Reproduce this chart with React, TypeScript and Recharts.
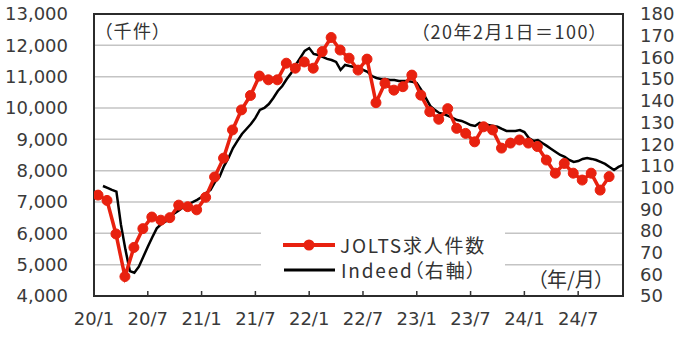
import React from "react";
import {
  LineChart,
  Line,
  XAxis,
  YAxis,
  CartesianGrid,
  ReferenceArea,
} from "recharts";

// JOLTS job openings (thousands), monthly from 2020/1
const joltsValues = [
  7220, 7050, 5980, 4620, 5550, 6150, 6520, 6420, 6500, 6900, 6850, 6750,
  7150, 7800, 8400, 9300, 9940, 10400, 11020, 10900, 10900, 11430, 11270, 11470,
  11270, 11800, 12250, 11850, 11590, 11210, 11560, 10170, 10790, 10570, 10680, 11050,
  10410, 9880, 9640, 9980, 9350, 9190, 8920, 9400, 9300, 8720, 8880, 8980,
  8880, 8770, 8340, 7920, 8230, 7920, 7700, 7920, 7380, 7810,
];

// Indeed job postings index (2020/2/1 = 100), half-monthly from 2020/2/1
const indeedValues = [
  100.7, 99.8, 98.9, 98.1, 83.0, 71.5, 61.5, 60.7, 63.5, 68.1,
  72.7, 77.1, 81.2, 83.2, 84.3, 86.6, 88.2, 89.6, 91.0, 92.4,
  93.3, 94.3, 95.6, 97.5, 98.9, 102.6, 104.9, 109.9, 113.6, 118.2,
  121.5, 124.7, 127.0, 129.3, 132.1, 135.8, 136.7, 138.5, 141.3, 144.5,
  146.8, 150.0, 152.8, 156.5, 159.7, 163.0, 164.3, 161.6, 161.1, 160.2,
  159.3, 158.8, 157.9, 154.2, 156.5, 156.0, 155.6, 155.1, 154.2, 153.3,
  151.4, 150.5, 150.0, 150.0, 149.6, 149.6, 149.1, 149.1, 149.1, 148.7,
  148.2, 145.0, 141.3, 137.6, 135.8, 134.4, 133.9, 133.0, 132.1, 131.1,
  130.7, 129.8, 128.8, 128.4, 129.8, 129.3, 128.8, 128.4, 128.0, 127.0,
  126.1, 126.1, 126.1, 126.5, 125.6, 122.8, 121.5, 121.9, 120.5, 119.2,
  117.8, 116.4, 115.0, 114.1, 112.7, 111.8, 112.2, 113.2, 113.6, 113.2,
  112.7, 111.8, 110.9, 109.5, 108.1, 109.5, 110.4,
];

const xTickLabels = ["20/1", "20/7", "21/1", "21/7", "22/1", "22/7", "23/1", "23/7", "24/1", "24/7"];
const xTickMonths = [0, 6, 12, 18, 24, 30, 36, 42, 48, 54];
const leftTicks = [4000, 5000, 6000, 7000, 8000, 9000, 10000, 11000, 12000, 13000];
const rightTicks = [50, 60, 70, 80, 90, 100, 110, 120, 130, 140, 150, 160, 170, 180];

const RED = "#e8210f";
const TICK_FONT = { fontFamily: "DejaVu Sans", fontSize: 18, fill: "#3a3a3a" };
const JP_FONT = "'Noto Sans CJK JP', sans-serif";

// JOLTS plotted at mid-month, Indeed from Feb 1 in half-month steps
const joltsData = joltsValues.map((v, i) => ({ t: i + 0.45, jolts: v }));
const indeedData = indeedValues.map((v, i) => ({ t: 1 + i * 0.5, indeed: v }));

const textBase: React.CSSProperties = {
  position: "absolute",
  fontFamily: JP_FONT,
  color: "#333",
  fontFeatureSettings: '"palt"',
  whiteSpace: "nowrap",
};

export default function App() {
  return (
    <div style={{ position: "absolute", left: 0, top: 0, width: 680, height: 337, background: "#fff" }}>
      <LineChart width={680} height={337} margin={{ top: 14, right: 0, bottom: 0, left: 0 }}>
        <CartesianGrid yAxisId="left" vertical={false} stroke="#c4c4c4" strokeWidth={1.5} />
        <XAxis
          dataKey="t"
          type="number"
          domain={[0, 59]}
          ticks={xTickMonths}
          tickFormatter={(v: number) => xTickLabels[xTickMonths.indexOf(v)] ?? ""}
          allowDataOverflow
          axisLine={false}
          tickSize={-5}
          tickMargin={21}
          tickLine={{ stroke: "#333", strokeWidth: 1.5 }}
          tick={TICK_FONT}
          height={41}
          interval={0}
        />
        <YAxis
          yAxisId="left"
          domain={[4000, 13000]}
          ticks={leftTicks}
          tickFormatter={(v: number) => v.toLocaleString("en-US")}
          axisLine={false}
          tickLine={false}
          tickSize={0}
          tickMargin={26}
          tick={TICK_FONT}
          width={94}
          interval={0}
        />
        <YAxis
          yAxisId="right"
          orientation="right"
          domain={[50, 180]}
          ticks={rightTicks}
          axisLine={false}
          tickLine={false}
          tickSize={0}
          tickMargin={17}
          tick={TICK_FONT}
          width={57}
          interval={0}
        />
        <ReferenceArea
          yAxisId="left"
          x1={0}
          x2={59}
          y1={4000}
          y2={13000}
          fill="none"
          fillOpacity={0}
          stroke="#2b2b2b"
          strokeWidth={2}
        />
        <Line
          yAxisId="right"
          data={indeedData}
          dataKey="indeed"
          stroke="#000"
          strokeWidth={2.5}
          dot={false}
          isAnimationActive={false}
        />
        <Line
          yAxisId="left"
          data={joltsData}
          dataKey="jolts"
          stroke={RED}
          strokeWidth={3.5}
          dot={{ r: 5, fill: RED, stroke: RED, strokeWidth: 1 }}
          isAnimationActive={false}
        />
      </LineChart>

      {/* Legend (white box inside the plot) */}
      <div
        style={{
          ...textBase,
          left: 261,
          top: 224,
          width: 244,
          height: 64,
          background: "#fff",
          fontSize: 19,
          letterSpacing: 1.8,
          lineHeight: "20px",
        }}
      >
        <div style={{ position: "absolute", left: 21, top: 11, height: 20, display: "flex", alignItems: "center" }}>
          <svg width={54} height={20} style={{ marginRight: 4 }}>
            <line x1={1} y1={10} x2={53} y2={10} stroke={RED} strokeWidth={4} />
            <circle cx={27} cy={10} r={5.5} fill={RED} />
          </svg>
          <span>JOLTS求人件数</span>
        </div>
        <div style={{ position: "absolute", left: 21, top: 36, height: 20, display: "flex", alignItems: "center" }}>
          <svg width={54} height={20} style={{ marginRight: 5 }}>
            <line x1={2} y1={10} x2={53} y2={10} stroke="#000" strokeWidth={3} />
          </svg>
          <span>Indeed（右軸）</span>
        </div>
      </div>

      <div style={{ ...textBase, left: 103, top: 18, fontSize: 18, letterSpacing: 1.5, lineHeight: "24px" }}>
        （千件）
      </div>
      <div style={{ ...textBase, left: 420, top: 19, fontSize: 18, letterSpacing: 1.5, lineHeight: "24px" }}>
        （20年2月1日＝100）
      </div>
      <div style={{ ...textBase, left: 537, top: 266, fontSize: 20, lineHeight: "26px" }}>
        （年/月）
      </div>
    </div>
  );
}
